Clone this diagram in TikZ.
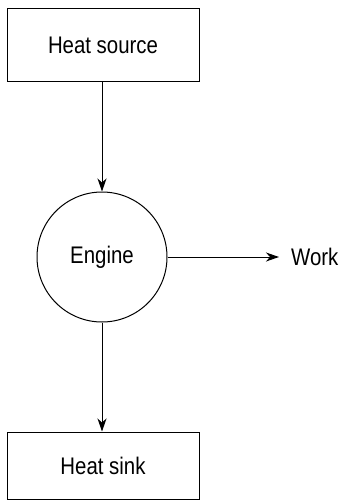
\documentclass[tikz,border=0pt]{standalone}
\usepackage{fontspec}
\setmainfont[FakeStretch=0.85]{Liberation Sans}
\usetikzlibrary{arrows.meta}
\begin{document}
\begin{tikzpicture}[x=1pt,y=1pt,
  every node/.style={font=\fontsize{24}{28}\selectfont, inner sep=0pt},
  box/.style={draw, line width=1pt, minimum width=192pt},
  conn/.style={draw, line width=1pt, -{Stealth[length=13pt,width=9pt,inset=4pt]}}]
\useasboundingbox (0,0) rectangle (342,-500);
\node[box, minimum height=73pt] (src) at (103,-45.5) {Heat source};
\node[draw, line width=1pt, circle, minimum size=130pt] (eng) at (102,-257) {Engine};
\node[box, minimum height=67pt] (sink) at (103,-465.5) {Heat sink};
\node[anchor=west] (work) at (291,-257) {Work};
\coordinate (wend) at (279,-257);
\draw[conn] (src.south -| eng.north) -- (eng.north);
\draw[conn] (eng.south) -- (eng.south |- sink.north);
\draw[conn] (eng.east) -- (wend);
\end{tikzpicture}
\end{document}
